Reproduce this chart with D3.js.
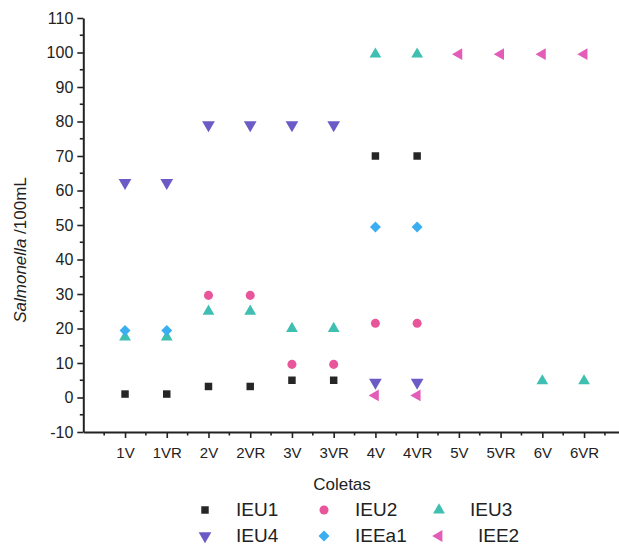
<!DOCTYPE html>
<html lang="pt">
<head>
  <meta charset="UTF-8">
  <title>Salmonella por coleta</title>
  <script src="https://cdn.jsdelivr.net/npm/d3@7"></script>
  <style>
    body { margin: 0; background: #fff; }
    text { font-family: "Liberation Sans", Arial, sans-serif; fill: #222; }
  </style>
</head>
<body>
  <svg id="svg" width="619" height="550"></svg>

  <script>
    // categories on the x axis
    const coletas = ['1V', '1VR', '2V', '2VR', '3V', '3VR', '4V', '4VR', '5V', '5VR', '6V', '6VR']
    const yTicks = [-10, 0, 10, 20, 30, 40, 50, 60, 70, 80, 90, 100, 110]

    // series values (null = no point)
    const IEU1  = [1, 1, 3.2, 3.2, 5, 5, 70, 70, null, null, null, null]
    const IEU2  = [null, null, 29.6, 29.6, 9.6, 9.6, 21.5, 21.5, null, null, null, null]
    const IEU3  = [17.5, 17.5, 25, 25, 20, 20, 99.5, 99.5, null, null, 4.8, 4.8]
    const IEU4  = [62.3, 62.3, 79, 79, 79, 79, 4.4, 4.4, null, null, null, null]
    const IEEa1 = [19.4, 19.4, null, null, null, null, 49.4, 49.4, null, null, null, null]
    const IEE2  = [null, null, null, null, null, null, 0.6, 0.6, 99.5, 99.5, 99.5, 99.5]

    const series = [
      { name: 'IEU1',  values: IEU1,  color: '#262626', symbol: d3.symbolSquare,   size: 56, rot: 0 },
      { name: 'IEU2',  values: IEU2,  color: '#e8559a', symbol: d3.symbolCircle,   size: 64, rot: 0 },
      { name: 'IEU3',  values: IEU3,  color: '#3fbfb2', symbol: d3.symbolTriangle, size: 60, rot: 0 },
      { name: 'IEU4',  values: IEU4,  color: '#6b5bc6', symbol: d3.symbolTriangle, size: 70, rot: 180 },
      { name: 'IEEa1', values: IEEa1, color: '#3aaef0', symbol: d3.symbolSquare,   size: 60, rot: 45 },
      { name: 'IEE2',  values: IEE2,  color: '#e25cb8', symbol: d3.symbolTriangle, size: 60, rot: -90 }
    ]

    const svg = d3.select('#svg')

    const xscale = d3.scaleLinear().domain([0, 13]).range([83.3, 83.3 + 13 * 41.73])
    const yscale = d3.scaleLinear().domain([-10, 110]).range([432, 18])

    // y axis, major + minor ticks
    const yAxis = svg.append('g')
      .attr('transform', 'translate(83.3,0)')
      .call(d3.axisLeft(yscale).tickValues(yTicks).tickFormat(d => String(d))
        .tickSize(6).tickSizeOuter(0).tickPadding(4))
    yAxis.append('g')
      .selectAll('line')
      .data(yTicks.slice(0, -1).map(d => d + 5))
      .join('line')
      .attr('x2', -3.5)
      .attr('y1', d => yscale(d))
      .attr('y2', d => yscale(d))
    yAxis.selectAll('text').style('font-size', '16px')

    // x axis
    const xAxis = svg.append('g')
      .attr('transform', 'translate(0,432)')
      .call(d3.axisBottom(xscale)
        .tickValues(d3.range(1, 13))
        .tickFormat(i => coletas[i - 1])
        .tickSize(6).tickSizeOuter(0).tickPadding(9))
    xAxis.append('g')
      .selectAll('line')
      .data(d3.range(0.5, 13, 1))
      .join('line')
      .attr('y2', 3.5)
      .attr('x1', d => xscale(d))
      .attr('x2', d => xscale(d))
    xAxis.selectAll('text').style('font-size', '15px')

    svg.selectAll('.domain, .tick line, g > g > line')
      .attr('stroke', '#222')
      .attr('stroke-width', 1.6)
    svg.selectAll('.domain').attr('stroke-width', 2)

    // points
    series.forEach(s => {
      svg.append('g')
        .attr('fill', s.color)
        .selectAll('path')
        .data(s.values.map((v, i) => ({ v, i })).filter(d => d.v !== null))
        .join('path')
        .attr('d', d3.symbol(s.symbol, s.size))
        .attr('transform', d => `translate(${xscale(d.i + 1)},${yscale(d.v)}) rotate(${s.rot})`)
    })

    // axis titles
    const yTitle = svg.append('text')
      .attr('transform', 'translate(26,250) rotate(-90)')
      .attr('text-anchor', 'middle')
      .style('font-size', '17px')
    yTitle.append('tspan').style('font-style', 'italic').text('Salmonella')
    yTitle.append('tspan').text(' /100mL')

    svg.append('text')
      .attr('x', 342)
      .attr('y', 490)
      .attr('text-anchor', 'middle')
      .style('font-size', '17px')
      .text('Coletas')

    // legend, 3 columns x 2 rows
    const legX = [205, 324, 439]
    const legY = [510, 536]
    const leg = svg.append('g')
    series.forEach((s, i) => {
      const cx = legX[i % 3]
      const cy = legY[Math.floor(i / 3)]
      leg.append('path')
        .attr('fill', s.color)
        .attr('d', d3.symbol(s.symbol, s.size))
        .attr('transform', `translate(${cx},${cy}) rotate(${s.rot})`)
      leg.append('text')
        .attr('x', cx + (i === 5 ? 39 : 31))
        .attr('y', cy + 6)
        .style('font-size', '19px')
        .text(s.name)
    })
  </script>
</body>
</html>
